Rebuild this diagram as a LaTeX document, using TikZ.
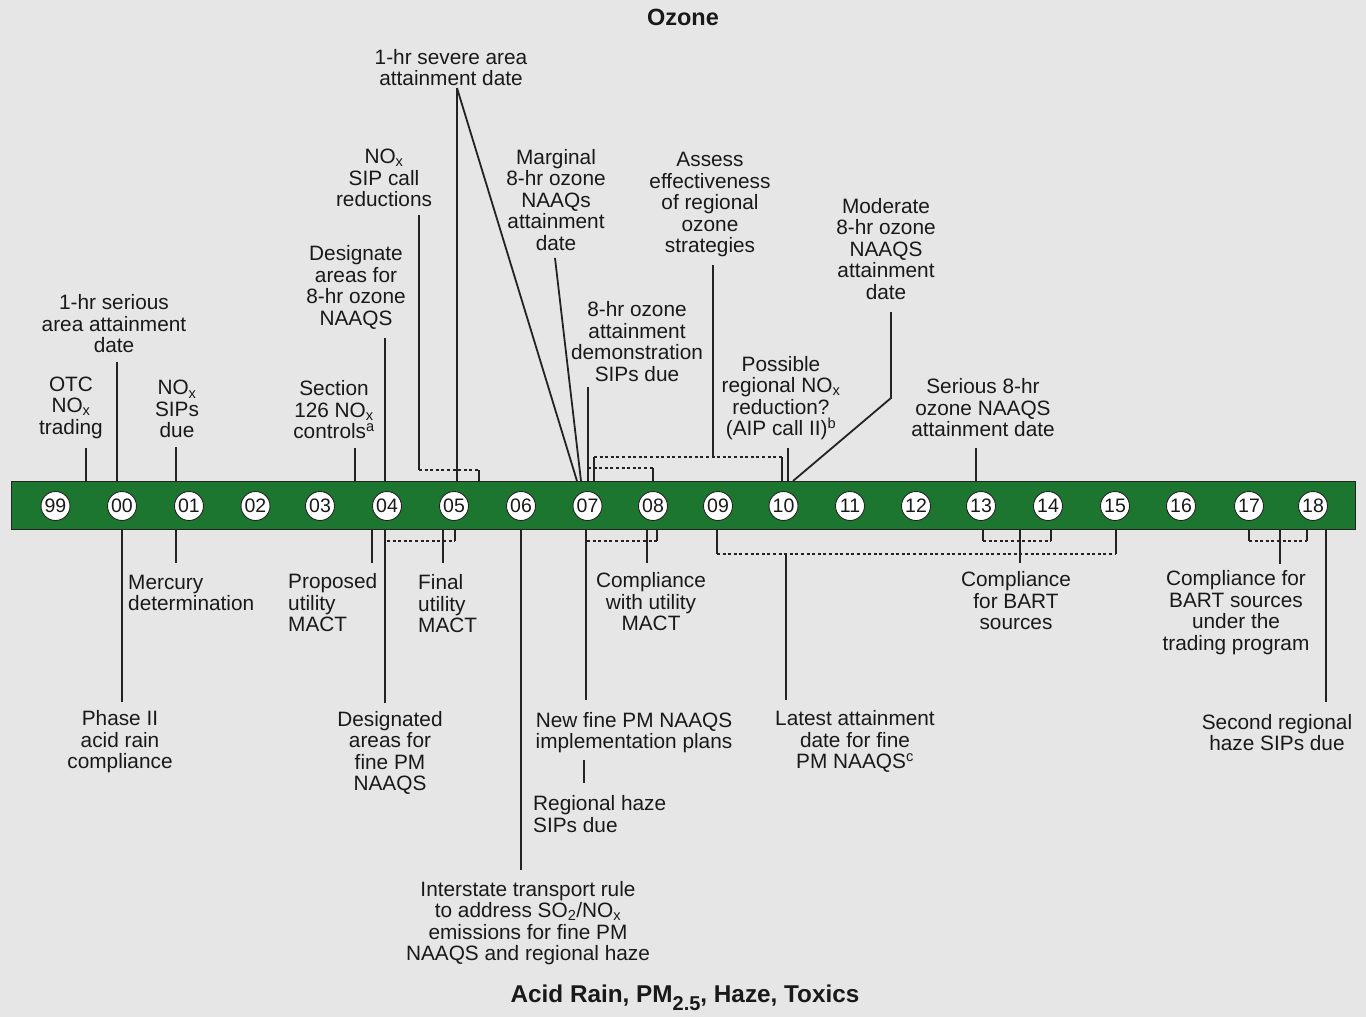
\documentclass[tikz,border=0pt]{standalone}
\usepackage{fontspec}
\setmainfont{Liberation Sans}
\definecolor{bgc}{RGB}{230,230,230}
\definecolor{grn}{RGB}{29,118,47}
\definecolor{lc}{RGB}{35,35,35}
\definecolor{txt}{RGB}{25,25,25}
\tikzset{
  lbl/.style={align=center, inner sep=0pt, text=txt, yshift=-2pt, font=\fontsize{20.8}{21.5}\selectfont},
  lblL/.style={lbl, align=left},
  ttl/.style={inner sep=0pt, text=txt, font=\fontsize{23.5}{24}\selectfont\bfseries},
  ln/.style={draw=lc, line width=1.8pt},
  dl/.style={draw=lc, line width=1.6pt, dash pattern=on 3pt off 2.6pt},
  yr/.style={circle, draw=lc, fill=white, line width=0.9pt, minimum size=29pt, inner sep=0pt, text=txt, font=\fontsize{19.5}{19.5}\selectfont},
  bandbox/.style={draw=lc, fill=grn, line width=1pt, minimum width=1344pt, minimum height=48pt, inner sep=0pt, anchor=north west}
}
\newcommand{\nox}{NO\textsubscript{x}}
\begin{document}
\begin{tikzpicture}[x=1pt,y=-1pt]
\fill[bgc] (0,0) rectangle (1366,1017);
\useasboundingbox (0,0) rectangle (1366,1017);
% titles
\node[ttl] (ozone) at (683,17) {Ozone};
\node[ttl, font=\fontsize{24.3}{25}\selectfont\bfseries] (acid) at (685,998) {Acid Rain, PM\raisebox{-7.5pt}{\fontsize{20}{20}\selectfont 2.5}, Haze, Toxics};
% band
\node[bandbox] (band) at (11,481) {};
\foreach \x/\l in {55.5/99,122/00,189/01,255.5/02,320/03,387/04,454/05,521/06,587.5/07,653/08,718/09,783.5/10,850/11,916/12,981/13,1048/14,1115/15,1181/16,1249/17,1313/18}
  \node[yr] (y\l) at (\x,506) {\l};
% ---------- top labels ----------
\node[lbl] (otc) at (71,405.5) {OTC\\\nox\\trading};
\node[lbl] (ser1) at (114,321.7) {1-hr serious\\area attainment\\date};
\node[lbl] (sips) at (177,407.3) {\nox\\SIPs\\due};
\node[lbl] (sec) at (334,407.7) {Section\\126 \nox\\controls\textsuperscript{a}};
\node[lbl] (des) at (356,285.3) {Designate\\areas for\\8-hr ozone\\NAAQS};
\node[lbl] (call) at (384,176) {\nox\\SIP call\\reductions};
\node[lbl] (sev) at (451,65.5) {1-hr severe area\\attainment date};
\node[lbl] (mar) at (556,198) {Marginal\\8-hr ozone\\NAAQs\\attainment\\date};
\node[lbl] (dem) at (637,339.5) {8-hr ozone\\attainment\\demonstration\\SIPs due};
\node[lbl] (ass) at (710,202.6) {Assess\\effectiveness\\of regional\\ozone\\strategies};
\node[lbl] (pos) at (781,396) {Possible\\regional \nox\\reduction?\\(AIP call II)\textsuperscript{b}};
\node[lbl] (mod) at (886,246.6) {Moderate\\8-hr ozone\\NAAQS\\attainment\\date};
\node[lbl] (ser8) at (983,406) {Serious 8-hr\\ozone NAAQS\\attainment date};
% ---------- bottom labels ----------
\node[lblL, anchor=west] (mer) at (128,591) {Mercury\\determination};
\node[lblL, anchor=west] (pro) at (288,600.7) {Proposed\\utility\\MACT};
\node[lblL, anchor=west] (fin) at (418,601.7) {Final\\utility\\MACT};
\node[lbl] (com) at (651,599.7) {Compliance\\with utility\\MACT};
\node[lbl] (bart) at (1016,598.7) {Compliance\\for BART\\sources};
\node[lbl] (trad) at (1236,610.7) {Compliance for\\BART sources\\under the\\trading program};
\node[lbl] (ph) at (120,739.7) {Phase II\\acid rain\\compliance};
\node[lbl] (desf) at (390,751) {Designated\\areas for\\fine PM\\NAAQS};
\node[lbl] (new) at (634,730.5) {New fine PM NAAQS\\implementation plans};
\node[lblL, anchor=west] (reg) at (533,812) {Regional haze\\SIPs due};
\node[lbl] (lat) at (855,739.7) {Latest attainment\\date for fine\\PM NAAQS\textsuperscript{c}};
\node[lbl] (sec2) at (1277,730.5) {Second regional\\haze SIPs due};
\node[lbl] (int) at (528,921) {Interstate transport rule\\to address SO\textsubscript{2}/\nox\\emissions for fine PM\\NAAQS and regional haze};
% ---------- top connector coordinates ----------
\coordinate (tOTC) at (86,448);
\coordinate (tSer1) at (117,362);
\coordinate (tSIPs) at (176,447);
\coordinate (tSec) at (355,448);
\coordinate (tDes) at (385,338);
\coordinate (tCall) at (419,215);
\coordinate (tCallB) at (419,470);
\coordinate (tCallR) at (479,470);
\coordinate (tSev) at (457,88);
\coordinate (tSevE) at (577,481);
\coordinate (tMar) at (555,258);
\coordinate (tMarE) at (581,481);
\coordinate (tDem) at (588,387);
\coordinate (tDemR) at (653,468);
\coordinate (tAss) at (713,265);
\coordinate (tAssB) at (713,457);
\coordinate (tAssL) at (594,457);
\coordinate (tAssR) at (782,457);
\coordinate (tPos) at (788,448);
\coordinate (tMod) at (891,312);
\coordinate (tModK) at (891,398);
\coordinate (tModE) at (793,481);
\coordinate (tSer8) at (976,448);
% ---------- top connectors ----------
\draw[ln] (tOTC) -- (tOTC |- band.north);
\draw[ln] (tSer1) -- (tSer1 |- band.north);
\draw[ln] (tSIPs) -- (tSIPs |- band.north);
\draw[ln] (tSec) -- (tSec |- band.north);
\draw[ln] (tDes) -- (tDes |- band.north);
\draw[ln] (tCall) -- (tCallB);
\draw[dl] (tCallB) -- (tCallR);
\draw[ln] (tCallR) -- (tCallR |- band.north);
\draw[ln] (tSev) -- (tSev |- band.north);
\draw[ln] (tSev) -- (tSevE);
\draw[ln] (tMar) -- (tMarE);
\draw[ln] (tDem) -- (tDem |- band.north);
\draw[dl] (tDem |- tDemR) -- (tDemR);
\draw[ln] (tDemR) -- (tDemR |- band.north);
\draw[ln] (tAss) -- (tAssB);
\draw[dl] (tAssL) -- (tAssR);
\draw[ln] (tAssL) -- (tAssL |- band.north);
\draw[ln] (tAssR) -- (tAssR |- band.north);
\draw[ln] (tPos) -- (tPos |- band.north);
\draw[ln, line join=miter] (tMod) -- (tModK) -- (tModE);
\draw[ln] (tSer8) -- (tSer8 |- band.north);
% ---------- bottom connector coordinates ----------
\coordinate (bPh) at (122,702);
\coordinate (bMer) at (176,563);
\coordinate (bPro) at (372,563);
\coordinate (bDes) at (385,703);
\coordinate (bFin) at (443,563);
\coordinate (bFinL) at (387,541);
\coordinate (bFinR) at (455,541);
\coordinate (bInt) at (521,870);
\coordinate (bNew) at (586,700);
\coordinate (bRegT) at (584,760);
\coordinate (bRegB) at (584,783);
\coordinate (bCom) at (647,563);
\coordinate (bComL) at (587,541);
\coordinate (bComR) at (657,541);
\coordinate (bLatL) at (717,554);
\coordinate (bLatR) at (1116,554);
\coordinate (bLatM) at (786,554);
\coordinate (bLat) at (786,700);
\coordinate (bBart) at (1020,563);
\coordinate (bBartL) at (983,541);
\coordinate (bBartR) at (1051,541);
\coordinate (bTr) at (1280,564);
\coordinate (bTrL) at (1249,541);
\coordinate (bTrR) at (1307,541);
\coordinate (bSec) at (1326,702);
% ---------- bottom connectors ----------
\draw[ln] (bPh |- band.south) -- (bPh);
\draw[ln] (bMer |- band.south) -- (bMer);
\draw[ln] (bPro |- band.south) -- (bPro);
\draw[ln] (bDes |- band.south) -- (bDes);
\draw[ln] (bFin |- band.south) -- (bFin);
\draw[dl] (bFinL) -- (bFinR);
\draw[ln] (bFinR |- band.south) -- (bFinR);
\draw[ln] (bInt |- band.south) -- (bInt);
\draw[ln] (bNew |- band.south) -- (bNew);
\draw[ln] (bRegT) -- (bRegB);
\draw[ln] (bCom |- band.south) -- (bCom);
\draw[dl] (bComL) -- (bComR);
\draw[ln] (bComR |- band.south) -- (bComR);
\draw[ln] (bLatL |- band.south) -- (bLatL);
\draw[ln] (bLatR |- band.south) -- (bLatR);
\draw[dl] (bLatL) -- (bLatR);
\draw[ln] (bLatM) -- (bLat);
\draw[ln] (bBart |- band.south) -- (bBart);
\draw[ln] (bBartL |- band.south) -- (bBartL);
\draw[ln] (bBartR |- band.south) -- (bBartR);
\draw[dl] (bBartL) -- (bBartR);
\draw[ln] (bTr |- band.south) -- (bTr);
\draw[ln] (bTrL |- band.south) -- (bTrL);
\draw[ln] (bTrR |- band.south) -- (bTrR);
\draw[dl] (bTrL) -- (bTrR);
\draw[ln] (bSec |- band.south) -- (bSec);
\end{tikzpicture}
\end{document}
